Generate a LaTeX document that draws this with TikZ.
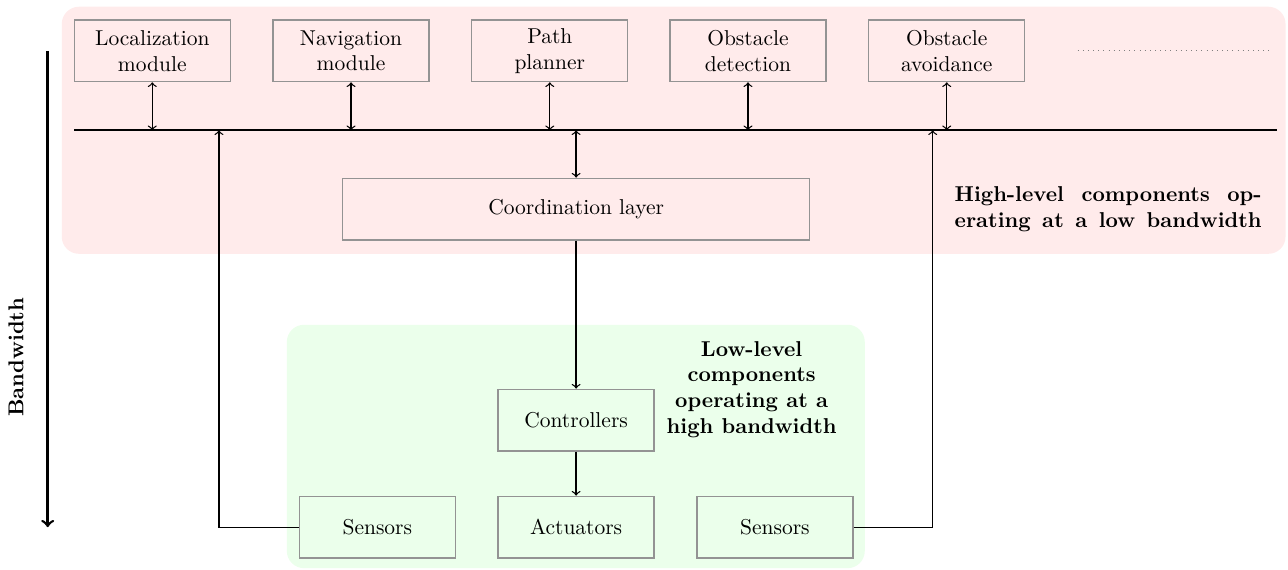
\documentclass[tikz,border=0pt]{standalone}

\begin{document}
\begin{tikzpicture}[>=to,
    box/.style={draw=gray!85,semithick,minimum width=2.55cm,minimum height=1.01cm,align=center},
    lbl/.style={font=\bfseries,align=center}]
    \useasboundingbox (0,0) rectangle (21.06,-9.32);
    % layers
    \fill[red!8,rounded corners=8pt] (1.01,-0.11) rectangle (21.02,-4.15);
    \fill[green!8,rounded corners=8pt] (4.69,-5.31) rectangle (14.14,-9.29);
    % high-level modules
    \node[box] (loc) at (2.49,-0.83) {Localization\\module};
    \node[box] (nav) at (5.74,-0.83) {Navigation\\module};
    \node[box] (path) at (8.99,-0.83) {Path\\planner};
    \node[box] (det) at (12.23,-0.83) {Obstacle\\detection};
    \node[box] (avoid) at (15.48,-0.83) {Obstacle\\avoidance};
    \coordinate (more-a) at (17.62,-0.82);
    \coordinate (more-b) at (20.81,-0.82);
    \draw[dotted,gray] (more-a) -- (more-b);
    % bus
    \coordinate (busl) at (1.21,-2.13);
    \coordinate (busr) at (20.88,-2.13);
    \draw[thick] (busl) -- (busr);
    \foreach \n in {loc,nav,path,det,avoid}
        \draw[<->,semithick] (\n.south) -- (\n.south |- busl);
    \node[box,minimum width=7.63cm] (coord) at (9.42,-3.42) {Coordination layer};
    \draw[<->,semithick] (coord.north) -- (coord.north |- busl);
    \node[lbl] (hightxt) at (18.12,-3.42)
        {\makebox[5.02cm][s]{High-level components op-}\\\makebox[5.02cm][s]{erating at a low bandwidth}};
    % low-level components
    \node[box] (ctrl) at (9.42,-6.87) {Controllers};
    \node[box] (act) at (9.42,-8.62) {Actuators};
    \node[box] (sensl) at (6.17,-8.62) {Sensors};
    \node[box] (sensr) at (12.67,-8.62) {Sensors};
    \node[lbl] (lowtxt) at (12.29,-6.37) {Low-level\\components\\operating at a\\high bandwidth};
    \draw[->,semithick] (coord) -- (ctrl);
    \draw[->,semithick] (ctrl) -- (act);
    % feedback to the bus
    \coordinate (fbl) at (3.58,-2.13);
    \coordinate (fbr) at (15.25,-2.13);
    \draw[->,semithick] (sensl.west) -| (fbl);
    \draw[->,semithick] (sensr.east) -| (fbr);
    % bandwidth axis
    \coordinate (bw-top) at (0.78,-0.83);
    \coordinate (bw-bot) at (0.78,-8.62);
    \draw[->,very thick] (bw-top) -- (bw-bot);
    \node[lbl,rotate=90] (bwtxt) at (0.26,-5.84) {Bandwidth};
\end{tikzpicture}
\end{document}
